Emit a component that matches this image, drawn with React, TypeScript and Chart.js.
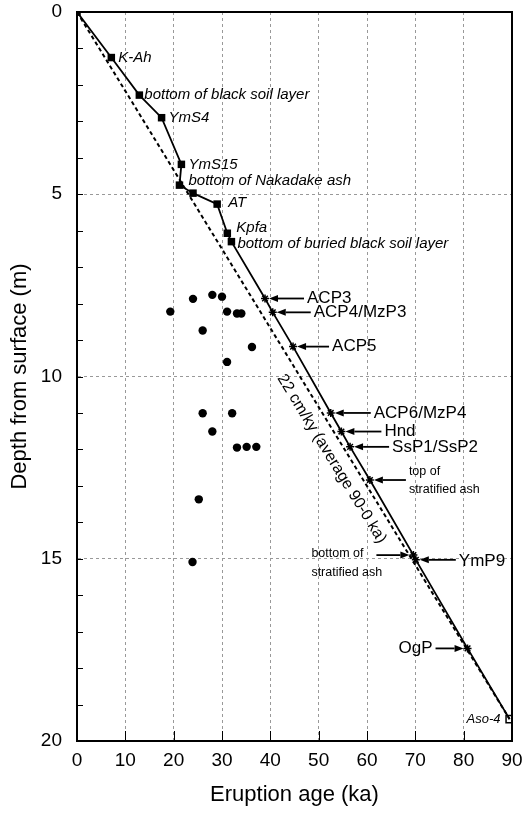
import React, { useEffect, useRef } from 'react';
import { Chart, registerables } from 'chart.js';

Chart.register(...registerables);

// ---------- data ----------
const squareAges = [0, 7.1, 12.9, 17.5, 21.6, 21.2, 24.0, 29.0, 31.1, 31.95];
const squareDepths = [0, 1.25, 2.28, 2.9, 4.18, 4.75, 4.97, 5.27, 6.07, 6.3];
const squareLabels = ['', 'K-Ah', 'bottom of black soil layer', 'YmS4', 'YmS15', 'bottom of Nakadake ash', '', 'AT', 'Kpfa', 'bottom of buried black soil layer'];

const starAges = [38.9, 40.5, 44.7, 52.5, 54.7, 56.5, 60.6, 69.6, 70.1, 80.8];
const starDepths = [7.86, 8.24, 9.18, 11.0, 11.51, 11.93, 12.84, 14.9, 15.03, 17.46];
const starLabels = ['ACP3', 'ACP4/MzP3', 'ACP5', 'ACP6/MzP4', 'Hnd', 'SsP1/SsP2', 'top of\nstratified ash', 'bottom of\nstratified ash', 'YmP9', 'OgP'];

const asoAges = [89.5];
const asoDepths = [19.4];
const asoLabels = ['Aso-4'];

const dotAges = [24.0, 28.0, 30.0, 19.3, 31.05, 33.1, 34.0, 26.0, 36.2, 31.05, 26.0, 32.1, 28.0, 33.1, 35.1, 37.1, 25.2, 23.9];
const dotDepths = [7.87, 7.76, 7.81, 8.22, 8.22, 8.27, 8.27, 8.74, 9.19, 9.6, 11.01, 11.01, 11.51, 11.95, 11.93, 11.93, 13.37, 15.09];

const averageRateLabel = '22 cm/ky (average 90-0 ka)';
const averageLabelAge = 55.5;

const xTickStep = 10;
const yTickStep = 5;
const yMinorStep = 1;
const xTitle = 'Eruption age (ka)';
const yTitle = 'Depth from surface (m)';

// ---------- layout (pixel offsets for annotations) ----------
const squareLabelLayout = [
  { dx: 0, dy: 0 },
  { dx: 7, dy: 0 },
  { dx: 5, dy: 0 },
  { dx: 7, dy: 0 },
  { dx: 7, dy: 0 },
  { dx: 9, dy: -4 },
  { dx: 0, dy: 0 },
  { dx: 11, dy: -1 },
  { dx: 9, dy: -5 },
  { dx: 6, dy: 2 },
];

const starLabelLayout = [
  { tx: 42, ty: [0], align: 'left', tail: 39, small: false },
  { tx: 41, ty: [0], align: 'left', tail: 38, small: false },
  { tx: 39, ty: [0], align: 'left', tail: 36, small: false },
  { tx: 43, ty: [0], align: 'left', tail: 40, small: false },
  { tx: 43, ty: [0], align: 'left', tail: 40, small: false },
  { tx: 42, ty: [0], align: 'left', tail: 39, small: false },
  { tx: 39, ty: [-8, 10], align: 'left', tail: 36, small: true },
  { tx: -102, ty: [-2, 17], align: 'left', tail: -37, small: true },
  { tx: 43, ty: [1], align: 'left', tail: 40, small: false },
  { tx: -35, ty: [0], align: 'right', tail: -32, small: false },
];

const FONT = '"Liberation Sans", Arial, Helvetica, sans-serif';

const toPts = (xs: number[], ys: number[]) => xs.map((v, i) => ({ x: v, y: ys[i] }));

function drawArrow(ctx: CanvasRenderingContext2D, fx: number, fy: number, tx: number, ty: number) {
  const ang = Math.atan2(ty - fy, tx - fx);
  const hl = 9;
  const hw = 3.5;
  const bx = tx - hl * Math.cos(ang);
  const by = ty - hl * Math.sin(ang);
  ctx.beginPath();
  ctx.moveTo(fx, fy);
  ctx.lineTo(bx, by);
  ctx.stroke();
  ctx.beginPath();
  ctx.moveTo(tx, ty);
  ctx.lineTo(bx - hw * Math.sin(ang), by + hw * Math.cos(ang));
  ctx.lineTo(bx + hw * Math.sin(ang), by - hw * Math.cos(ang));
  ctx.closePath();
  ctx.fill();
}

const annotationPlugin = {
  id: 'annotations',
  afterDatasetsDraw(chart: any) {
    const { ctx, chartArea, scales } = chart;
    const xs = scales.x;
    const ys = scales.y;
    ctx.save();

    // frame
    ctx.strokeStyle = '#000';
    ctx.lineWidth = 2;
    ctx.strokeRect(chartArea.left, chartArea.top, chartArea.right - chartArea.left, chartArea.bottom - chartArea.top);

    // inward ticks
    ctx.lineWidth = 1;
    for (let d = yMinorStep; d < ys.max; d += yMinorStep) {
      const py = Math.round(ys.getPixelForValue(d)) + 0.5;
      ctx.beginPath();
      ctx.moveTo(chartArea.left, py);
      ctx.lineTo(chartArea.left + 6, py);
      ctx.stroke();
    }
    for (let a = xTickStep; a < xs.max; a += xTickStep) {
      const px = Math.round(xs.getPixelForValue(a)) + 0.5;
      ctx.beginPath();
      ctx.moveTo(px, chartArea.bottom);
      ctx.lineTo(px, chartArea.bottom - 10);
      ctx.stroke();
    }

    ctx.fillStyle = '#000';
    ctx.textBaseline = 'middle';

    // square labels (italic)
    ctx.font = `italic 15px ${FONT}`;
    ctx.textAlign = 'left';
    squareLabels.forEach((lab, i) => {
      if (!lab) return;
      const px = xs.getPixelForValue(squareAges[i]);
      const py = ys.getPixelForValue(squareDepths[i]);
      const L = squareLabelLayout[i];
      ctx.fillText(lab, px + L.dx, py + L.dy);
    });

    // Aso-4 label
    ctx.font = `italic 13px ${FONT}`;
    ctx.textAlign = 'right';
    asoLabels.forEach((lab, i) => {
      const px = xs.getPixelForValue(asoAges[i]);
      const py = ys.getPixelForValue(asoDepths[i]);
      ctx.fillText(lab, px - 9, py);
    });

    // star labels with arrows
    ctx.lineWidth = 1.8;
    ctx.strokeStyle = '#000';
    starLabels.forEach((lab, i) => {
      const px = xs.getPixelForValue(starAges[i]);
      const py = ys.getPixelForValue(starDepths[i]);
      const L = starLabelLayout[i];
      ctx.font = L.small ? `12.5px ${FONT}` : `17px ${FONT}`;
      ctx.textAlign = L.align as CanvasTextAlign;
      lab.split('\n').forEach((line, k) => {
        ctx.fillText(line, px + L.tx, py + L.ty[k]);
      });
      const dir = Math.sign(L.tail);
      drawArrow(ctx, px + L.tail, py, px + dir * 4, py);
    });

    // average-rate label along dashed line
    const p0x = xs.getPixelForValue(0);
    const p0y = ys.getPixelForValue(0);
    const p1x = xs.getPixelForValue(asoAges[0]);
    const p1y = ys.getPixelForValue(asoDepths[0]);
    const ang = Math.atan2(p1y - p0y, p1x - p0x);
    const t = averageLabelAge / asoAges[0];
    const ax = p0x + (p1x - p0x) * t;
    const ay = p0y + (p1y - p0y) * t;
    const off = 16;
    ctx.translate(ax - off * Math.sin(ang), ay + off * Math.cos(ang));
    ctx.rotate(ang);
    ctx.font = `16px ${FONT}`;
    ctx.textAlign = 'center';
    ctx.fillText(averageRateLabel, 0, 0);

    ctx.restore();
  },
};

export default function App() {
  const ref = useRef<HTMLCanvasElement | null>(null);

  useEffect(() => {
    if (!ref.current) return;
    const mainLine = [...toPts(squareAges, squareDepths), ...toPts(starAges, starDepths), ...toPts(asoAges, asoDepths)];
    const chart = new Chart(ref.current, {
      type: 'scatter',
      data: {
        datasets: [
          {
            label: 'average',
            data: [{ x: 0, y: 0 }, { x: asoAges[0], y: asoDepths[0] }],
            showLine: true,
            borderColor: '#000',
            borderWidth: 2,
            borderDash: [4, 3],
            pointRadius: 0,
          },
          {
            label: 'main',
            data: mainLine,
            showLine: true,
            borderColor: '#000',
            borderWidth: 1.8,
            pointRadius: 0,
          },
          {
            label: 'squares',
            data: toPts(squareAges, squareDepths),
            pointStyle: 'rect',
            pointRadius: 5.3,
            backgroundColor: '#000',
            borderColor: '#000',
            borderWidth: 0,
          },
          {
            label: 'stars',
            data: toPts(starAges, starDepths),
            pointStyle: 'star',
            pointRadius: 4,
            backgroundColor: '#000',
            borderColor: '#000',
            borderWidth: 1.5,
          },
          {
            label: 'aso',
            data: toPts(asoAges, asoDepths),
            pointStyle: 'rect',
            pointRadius: 5,
            backgroundColor: '#fff',
            borderColor: '#000',
            borderWidth: 1.5,
          },
          {
            label: 'dots',
            data: toPts(dotAges, dotDepths),
            pointStyle: 'circle',
            pointRadius: 4.2,
            backgroundColor: '#000',
            borderColor: '#000',
            borderWidth: 0,
          },
        ],
      },
      options: {
        responsive: false,
        animation: false,
        events: [],
        layout: { padding: { top: 12, right: 13, left: 0, bottom: 0 } },
        plugins: { legend: { display: false }, tooltip: { enabled: false } },
        scales: {
          x: {
            type: 'linear',
            position: 'bottom',
            min: 0,
            max: 90,
            ticks: { stepSize: xTickStep, autoSkip: false, maxRotation: 0, padding: 8, color: '#000', font: { family: FONT, size: 19 } },
            grid: { color: '#999', lineWidth: 1, drawTicks: false },
            border: { display: true, color: '#000', width: 2, dash: [3, 3] },
            title: { display: true, text: xTitle, color: '#000', font: { family: FONT, size: 22 }, padding: { top: 0, bottom: 5 } },
            afterFit: (s: any) => { s.height = 72; s.paddingLeft = 0; s.paddingRight = 0; },
          },
          y: {
            type: 'linear',
            reverse: true,
            min: 0,
            max: 20,
            ticks: { stepSize: yTickStep, autoSkip: false, padding: 15, color: '#000', font: { family: FONT, size: 19 } },
            grid: { color: '#999', lineWidth: 1, drawTicks: false },
            border: { display: true, color: '#000', width: 2, dash: [3, 3] },
            title: { display: true, text: yTitle, color: '#000', font: { family: FONT, size: 22 }, padding: { top: 7, bottom: 0 } },
            afterFit: (s: any) => { s.width = 77; s.paddingTop = 0; s.paddingBottom = 0; },
          },
        },
      },
      plugins: [annotationPlugin],
    } as any);
    return () => chart.destroy();
  }, []);

  return (
    <div style={{ position: 'fixed', left: 0, top: 0, width: 525, height: 813, background: '#fff' }}>
      <canvas ref={ref} width={525} height={813} style={{ display: 'block' }} />
    </div>
  );
}
